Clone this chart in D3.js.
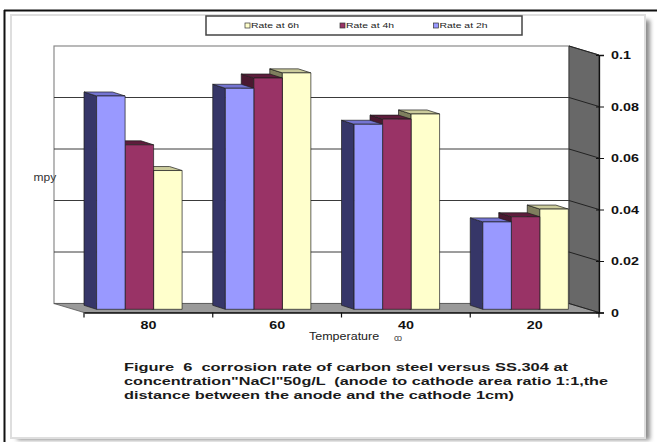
<!DOCTYPE html>
<html>
<head>
<meta charset="utf-8">
<script src="https://cdn.jsdelivr.net/npm/d3@7"></script>
<style>
  body { margin: 0; background: #fff; }
  svg { display: block; }
  text { font-family: "Liberation Sans", Arial, sans-serif; }
</style>
</head>
<body>
<script>
// Data
var categories = ["80", "60", "40", "20"];
var seriesNames = ["Rate at 2h", "Rate at 4h", "Rate at 6h"];
var rate2h = [0.083, 0.086, 0.072, 0.034];
var rate4h = [0.064, 0.090, 0.074, 0.036];
var rate6h = [0.054, 0.092, 0.076, 0.039];
var yTicks = [0, 0.02, 0.04, 0.06, 0.08, 0.1];
var legendOrder = ["Rate at 6h", "Rate at 4h", "Rate at 2h"];
var captionLines = [
  "Figure  6  corrosion rate of carbon steel versus SS.304 at",
  "concentration\"NaCl\"50g/L  (anode to cathode area ratio 1:1,the",
  "distance between the anode and the cathode 1cm)"
];

var series = [rate2h, rate4h, rate6h];
var fronts = ["#9999ff", "#993366", "#ffffcc"],
    sides  = ["#363668", "#4a1830", "#7f7f5e"],
    tops   = ["#7474d2", "#5e1c3c", "#cbcb9c"];

var width = 657, height = 442;

var svg = d3.select("body").append("svg")
    .attr("width", width)
    .attr("height", height);

// stretch helper: the picture is a bit wider than normal text
function stretch(sel, k) {
  sel.each(function() {
    var w = this.getComputedTextLength();
    d3.select(this).attr("textLength", w * k).attr("lengthAdjust", "spacingAndGlyphs");
  });
}

// Frame, panel and shadow
svg.append("defs").append("filter").attr("id", "blur")
    .append("feGaussianBlur").attr("stdDeviation", 2);

svg.append("rect")
    .attr("x", 17).attr("y", 20).attr("width", 633).attr("height", 420)
    .attr("fill", "#8c8c8c").attr("filter", "url(#blur)");
svg.append("rect")
    .attr("x", 11).attr("y", 15).attr("width", 634).attr("height", 423)
    .attr("fill", "#fff").attr("stroke", "#dedede").attr("stroke-width", 2);
svg.append("line").attr("x1", 4).attr("x2", 657).attr("y1", 10.5).attr("y2", 10.5)
    .attr("stroke", "#111").attr("stroke-width", 2);
svg.append("line").attr("x1", 4.5).attr("x2", 4.5).attr("y1", 10).attr("y2", 442)
    .attr("stroke", "#111").attr("stroke-width", 2);

// Scales
var depth = {x: 30, y: 9};     // back wall -> front plane
var x = d3.scaleBand().domain(categories).range([84, 599]);
var yFront = d3.scaleLinear().domain([0, 0.1]).range([312.5, 55]);
var yBar = d3.scaleLinear().domain([0, 0.1]).range([309.3, 52.3]);
var barW = 28.5, bdx = 12.6, bdy = 4;

var x0 = x.range()[0], x1 = x.range()[1];
function back(v) { return yFront(v) - depth.y; }

// Back wall
svg.append("rect")
    .attr("x", x0 - depth.x).attr("y", back(0.1))
    .attr("width", x1 - x0).attr("height", back(0) - back(0.1))
    .attr("fill", "#fff").attr("stroke", "#8a8a8a").attr("stroke-width", 1.2);

// Right side wall
svg.append("polygon")
    .attr("points", [[x1 - depth.x, back(0.1)], [x1, yFront(0.1)], [x1, yFront(0)], [x1 - depth.x, back(0)]].join(" "))
    .attr("fill", "#686868").attr("stroke", "#333").attr("stroke-width", 0.8);

// Floor
svg.append("polygon")
    .attr("points", [[x0 - depth.x, back(0)], [x1 - depth.x, back(0)], [x1, yFront(0)], [x0, yFront(0)]].join(" "))
    .attr("fill", "#9a9a9a").attr("stroke", "#555").attr("stroke-width", 0.8);

// Gridlines (back wall + side wall)
var grid = svg.append("g");
yTicks.filter(function(d) { return d > 0 && d < 0.1; }).forEach(function(d) {
  grid.append("line")
      .attr("x1", x0 - depth.x).attr("x2", x1 - depth.x)
      .attr("y1", back(d)).attr("y2", back(d))
      .attr("stroke", "#3a3a3a").attr("stroke-width", 1);
});
yTicks.forEach(function(d) {
  grid.append("line")
      .attr("x1", x1 - depth.x).attr("x2", x1)
      .attr("y1", back(d)).attr("y2", yFront(d))
      .attr("stroke", "#222").attr("stroke-width", 1);
});

// Bars: drawn right to left so each left face is hidden by its neighbour
var bars = svg.append("g");
categories.forEach(function(cat, ci) {
  for (var si = series.length - 1; si >= 0; si--) {
    var v = series[si][ci];
    var fx = x(cat) + bdx + si * barW,
        top = yBar(v), base = yBar(0);
    var g = bars.append("g").attr("stroke", "#1e1e1e").attr("stroke-width", 0.7).attr("stroke-linejoin", "round");
    g.append("polygon")
        .attr("points", [[fx, top], [fx - bdx, top - bdy], [fx - bdx, base - bdy], [fx, base]].join(" "))
        .attr("fill", sides[si]);
    g.append("polygon")
        .attr("points", [[fx, top], [fx + barW, top], [fx + barW - bdx, top - bdy], [fx - bdx, top - bdy]].join(" "))
        .attr("fill", tops[si]);
    g.append("rect")
        .attr("x", fx).attr("y", top)
        .attr("width", barW).attr("height", base - top)
        .attr("fill", fronts[si]);
  }
});

// Right value axis
var yAxis = svg.append("g")
    .attr("transform", "translate(" + x1 + ",0)")
    .call(d3.axisRight(yFront).tickValues(yTicks).tickSize(5).tickPadding(7)
      .tickFormat(function(d) { return d === 0 ? "0" : String(d); }));
yAxis.select(".domain").attr("stroke", "#111").attr("stroke-width", 1.3);
yAxis.selectAll(".tick line").attr("stroke", "#111").attr("x1", -3);
yAxis.selectAll("text")
    .attr("font-size", 11).attr("font-weight", "bold").attr("fill", "#111")
    .attr("font-family", "Liberation Sans, Arial, sans-serif");
stretch(yAxis.selectAll("text"), 1.3);

// Bottom category axis
var xAxis = svg.append("g")
    .attr("transform", "translate(0," + yFront(0) + ")")
    .call(d3.axisBottom(x).tickSizeInner(0).tickSizeOuter(0).tickPadding(8.2));
xAxis.select(".domain").attr("stroke", "#111").attr("stroke-width", 1.3);
xAxis.selectAll("text")
    .attr("font-size", 11).attr("font-weight", "bold").attr("fill", "#111")
    .attr("font-family", "Liberation Sans, Arial, sans-serif");
stretch(xAxis.selectAll("text"), 1.3);
categories.concat([null]).forEach(function(c) {
  var px = c === null ? x1 : x(c);
  xAxis.append("line").attr("x1", px).attr("x2", px).attr("y1", 0).attr("y2", 5)
      .attr("stroke", "#111").attr("stroke-width", 1.2);
});

// Axis titles
var mpy = svg.append("text").attr("x", 33.5).attr("y", 181)
    .attr("font-size", 10).attr("fill", "#333").text("mpy");
stretch(mpy, 1.2);
var temp = svg.append("text").attr("x", 309).attr("y", 339.5)
    .attr("font-size", 10).attr("fill", "#222").text("Temperature");
stretch(temp, 1.25);
svg.append("text").attr("x", 394).attr("y", 340.5)
    .attr("font-size", 9).attr("fill", "#444")
    .attr("letter-spacing", -1.5)
    .text("co");

// Legend
var legend = svg.append("g");
legend.append("rect")
    .attr("x", 206).attr("y", 16).attr("width", 316).attr("height", 19)
    .attr("fill", "#fff").attr("stroke", "#444").attr("stroke-width", 1.5);
var legendX = [245, 340, 433.5];
legendOrder.forEach(function(name, i) {
  var si = seriesNames.indexOf(name);
  legend.append("rect")
      .attr("x", legendX[i]).attr("y", 23).attr("width", 5).attr("height", 5)
      .attr("fill", fronts[si]).attr("stroke", "#333").attr("stroke-width", 0.7);
  legend.append("text")
      .attr("x", legendX[i] + 6).attr("y", 28.3)
      .attr("font-size", 7.5).attr("fill", "#222")
      .attr("textLength", 48).attr("lengthAdjust", "spacingAndGlyphs")
      .text(name);
});

// Caption
var capLen = [444, 484, 390];
var capY = [370.5, 384.5, 399];
captionLines.forEach(function(line, i) {
  svg.append("text")
      .attr("x", 124).attr("y", capY[i])
      .attr("font-size", 11.5).attr("font-weight", "bold").attr("fill", "#1a1a1a")
      .attr("textLength", capLen[i]).attr("lengthAdjust", "spacingAndGlyphs")
      .style("white-space", "pre")
      .text(line);
});
</script>
</body>
</html>
